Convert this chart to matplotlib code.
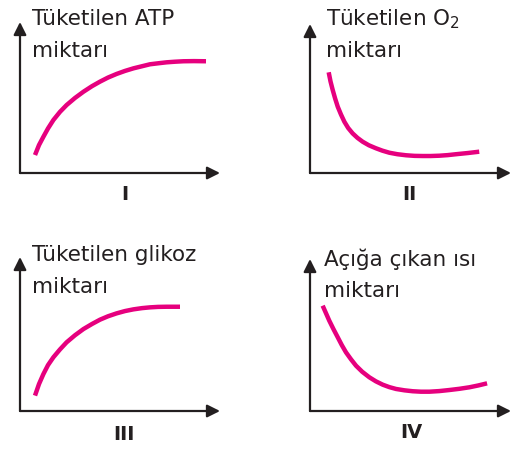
import matplotlib
matplotlib.use("Agg")
import matplotlib.pyplot as plt

W, H = 513, 449
INK = "#231f20"
PINK = "#e6007e"

# curve values (x, y in 0..10 axis units)
x1 = [0.75, 0.95, 1.17, 1.4, 1.67, 2.0, 2.33, 2.75, 3.17, 3.6, 4.0, 4.4, 4.83,
      5.25, 5.67, 6.1, 6.5, 7.0, 7.33, 7.75, 8.17, 8.7, 9.3]
y1 = [1.19, 1.85, 2.4, 2.95, 3.51, 4.05, 4.5, 4.97, 5.38, 5.75, 6.05, 6.32, 6.56,
      6.76, 6.93, 7.07, 7.2, 7.28, 7.33, 7.37, 7.4, 7.41, 7.4]

x2 = [0.93, 1.02, 1.13, 1.25, 1.38, 1.54, 1.71, 1.9, 2.12, 2.36, 2.62, 2.93, 3.28,
      3.6, 3.95, 4.35, 4.78, 5.2, 5.61, 6.0, 6.43, 6.85, 7.26, 7.85, 8.42]
y2 = [6.76, 6.15, 5.57, 5.0, 4.45, 3.93, 3.44, 3.02, 2.66, 2.36, 2.1, 1.86, 1.66,
      1.5, 1.36, 1.26, 1.19, 1.15, 1.14, 1.14, 1.16, 1.2, 1.26, 1.34, 1.43]

x3 = [0.75, 0.95, 1.17, 1.4, 1.67, 2.0, 2.33, 2.75, 3.17, 3.6, 4.0, 4.4, 4.83,
      5.25, 5.67, 6.1, 6.5, 6.9, 7.33, 8.0]
y3 = [1.0, 1.75, 2.4, 2.98, 3.49, 4.0, 4.46, 4.92, 5.32, 5.65, 5.93, 6.15, 6.34,
      6.49, 6.6, 6.68, 6.73, 6.76, 6.77, 6.77]

x4 = [0.63, 0.8, 0.96, 1.17, 1.38, 1.58, 1.79, 2.04, 2.29, 2.6, 2.95, 3.28, 3.62,
      3.95, 4.28, 4.7, 5.11, 5.52, 5.94, 6.43, 6.93, 7.43, 7.93, 8.37, 8.81]
y4 = [6.93, 6.42, 5.94, 5.38, 4.85, 4.34, 3.86, 3.4, 2.98, 2.58, 2.22, 1.95, 1.73,
      1.57, 1.45, 1.36, 1.3, 1.27, 1.27, 1.31, 1.38, 1.46, 1.56, 1.68, 1.82]

ylabels = [["Tüketilen ATP", "miktarı"],
           ["Tüketilen O$_2$", "miktarı"],
           ["Tüketilen glikoz", "miktarı"],
           ["Açığa çıkan ısı", "miktarı"]]
numerals = ["I", "II", "III", "IV"]

# panel boxes in pixels: origin x, origin y, arrow tip x, arrow tip y
boxes = [(20, 173, 220, 22), (310, 173, 511, 24),
         (20, 411, 220, 257), (310, 411, 511, 259)]
label_pos = [(32, 25, 57), (326, 25, 57), (32, 261, 293), (324, 266, 297)]
num_pos = [(125, 194), (409, 194), (124, 434), (411, 432)]
curves = [(x1, y1), (x2, y2), (x3, y3), (x4, y4)]

fig = plt.figure(figsize=(W / 100, H / 100), dpi=100)

for i in range(4):
    ox, oy, tx, ty = boxes[i]
    ax = fig.add_axes([ox / W, 1 - oy / H, (tx - ox) / W, (oy - ty) / H])
    ax.set_xlim(0, 10)
    ax.set_ylim(0, 10)
    ax.axis("off")
    arr = dict(arrowstyle="-|>", color=INK, lw=1.6, mutation_scale=19,
               shrinkA=0, shrinkB=0)
    ax.annotate("", xy=(1, 0), xytext=(0, 0), xycoords="axes fraction",
                arrowprops=arr, annotation_clip=False)
    ax.annotate("", xy=(0, 1), xytext=(0, 0), xycoords="axes fraction",
                arrowprops=arr, annotation_clip=False)
    xs, ys = curves[i]
    ax.plot(xs, ys, color=PINK, lw=3.2, solid_capstyle="butt",
            solid_joinstyle="round", clip_on=False)

    lx, b1, b2 = label_pos[i]
    fig.text(lx / W, 1 - b1 / H, ylabels[i][0], fontsize=15.5, color=INK,
             va="baseline", ha="left")
    fig.text(lx / W, 1 - b2 / H, ylabels[i][1], fontsize=15.5, color=INK,
             va="baseline", ha="left")
    nx, ny = num_pos[i]
    fig.text(nx / W, 1 - ny / H, numerals[i], fontsize=14, fontweight="bold",
             color=INK, ha="center", va="center")

fig.savefig("out.png", dpi=100)
